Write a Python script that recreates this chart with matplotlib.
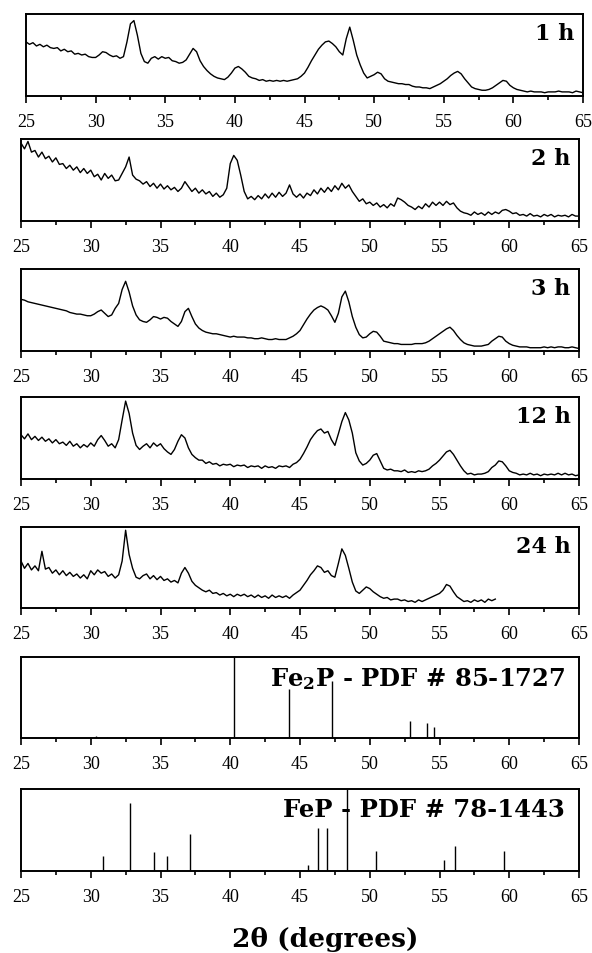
import numpy as np
import matplotlib
matplotlib.use("Agg")
import matplotlib.pyplot as plt
from matplotlib.ticker import MultipleLocator

# XRD patterns, 2theta from 25 deg in 0.25 deg steps,
# intensity as % of panel height
theta_start = 25.0
theta_step = 0.25

i_1h = [66, 63, 65, 61, 63, 60, 62, 59, 58, 59, 55, 57, 54, 55, 51, 52,
        50, 51, 48, 47, 47, 50, 54, 53, 50, 48, 49, 46, 48, 66, 88, 92,
        74, 52, 42, 40, 46, 48, 45, 48, 46, 47, 43, 42, 40, 41, 44, 51,
        58, 54, 43, 36, 31, 27, 24, 22, 21, 20, 23, 28, 34, 36, 33, 29,
        24, 22, 21, 19, 20, 18, 19, 18, 19, 18, 19, 18, 19, 20, 21, 24,
        28, 35, 43, 50, 57, 62, 66, 67, 64, 60, 54, 50, 70, 84, 68, 50,
        38, 28, 22, 24, 26, 29, 27, 21, 18, 17, 16, 15, 15, 14, 14, 12,
        11, 11, 10, 10, 9, 11, 13, 15, 18, 21, 25, 28, 30, 27, 21, 16,
        11, 9, 8, 7, 7, 8, 10, 13, 16, 19, 18, 13, 10, 8, 7, 6,
        5, 6, 5, 5, 5, 4, 5, 5, 5, 6, 5, 5, 5, 4, 6, 5, 4]

i_2h = [95, 88, 97, 84, 86, 78, 84, 76, 79, 72, 77, 69, 70, 64, 68, 62,
        66, 59, 64, 58, 62, 54, 57, 50, 58, 52, 56, 49, 50, 58, 66, 78,
        56, 51, 49, 45, 48, 42, 46, 40, 45, 39, 43, 38, 41, 36, 40, 48,
        42, 36, 40, 34, 38, 33, 36, 30, 34, 29, 32, 40, 70, 80, 74, 56,
        36, 27, 30, 26, 31, 27, 33, 28, 34, 29, 35, 30, 34, 44, 33, 29,
        33, 28, 34, 31, 38, 33, 40, 35, 41, 36, 43, 38, 46, 40, 44, 36,
        30, 24, 27, 21, 23, 19, 22, 17, 20, 16, 21, 18, 28, 26, 23, 19,
        17, 14, 18, 15, 21, 17, 23, 19, 23, 19, 24, 20, 22, 16, 12, 10,
        9, 7, 11, 8, 10, 7, 11, 8, 11, 9, 13, 14, 12, 9, 10, 7,
        8, 6, 9, 6, 7, 5, 8, 6, 8, 5, 7, 6, 7, 5, 8, 6, 6]

i_3h = [63, 62, 60, 59, 58, 57, 56, 55, 54, 53, 52, 51, 50, 49, 47, 46,
        45, 45, 44, 43, 43, 45, 48, 50, 46, 42, 44, 52, 58, 75, 85, 72,
        55, 44, 38, 36, 35, 38, 42, 41, 39, 41, 40, 36, 33, 30, 36, 48,
        52, 42, 33, 28, 25, 23, 22, 21, 21, 20, 19, 18, 17, 18, 17, 17,
        17, 16, 16, 15, 15, 16, 15, 14, 14, 15, 14, 14, 14, 16, 18, 21,
        25, 32, 39, 45, 50, 53, 55, 53, 50, 43, 35, 46, 66, 73, 60, 42,
        29, 20, 16, 17, 21, 24, 23, 18, 12, 11, 10, 9, 9, 8, 8, 8,
        8, 9, 9, 9, 10, 12, 15, 18, 21, 24, 27, 29, 25, 19, 14, 10,
        8, 7, 6, 6, 6, 7, 8, 12, 15, 18, 17, 12, 9, 7, 6, 5,
        5, 5, 4, 4, 4, 4, 5, 4, 5, 4, 5, 5, 4, 4, 5, 4, 3]

i_12h = [54, 49, 55, 48, 52, 47, 51, 46, 49, 44, 48, 43, 45, 41, 46, 40,
         43, 38, 42, 39, 44, 40, 48, 53, 47, 40, 43, 38, 48, 72, 95, 80,
         56, 41, 36, 40, 43, 38, 44, 40, 43, 37, 33, 30, 36, 46, 54, 50,
         38, 30, 26, 23, 23, 19, 21, 18, 19, 16, 18, 17, 18, 15, 17, 16,
         17, 14, 16, 15, 16, 13, 16, 14, 15, 13, 16, 15, 16, 14, 18, 20,
         24, 31, 39, 48, 54, 59, 61, 56, 58, 48, 41, 55, 70, 81, 72, 56,
         32, 22, 17, 19, 23, 29, 31, 22, 13, 11, 12, 10, 10, 9, 11, 8,
         9, 8, 10, 9, 10, 12, 16, 19, 23, 28, 33, 35, 30, 23, 16, 10,
         6, 7, 5, 6, 6, 7, 9, 14, 17, 22, 21, 16, 10, 8, 7, 5,
         6, 5, 7, 5, 6, 4, 6, 5, 6, 5, 7, 5, 7, 5, 6, 4, 5]

i_24h = [58, 49, 55, 47, 52, 46, 70, 48, 50, 43, 47, 41, 46, 40, 44, 39,
         42, 37, 41, 36, 46, 41, 47, 43, 45, 39, 42, 37, 41, 58, 96, 66,
         49, 38, 36, 40, 42, 36, 40, 35, 39, 34, 36, 32, 34, 31, 43, 50,
         43, 33, 28, 25, 22, 20, 22, 18, 19, 16, 18, 15, 17, 14, 17, 15,
         17, 14, 16, 13, 16, 13, 15, 12, 16, 13, 15, 13, 15, 12, 16, 19,
         22, 28, 34, 41, 46, 52, 50, 44, 46, 40, 38, 55, 73, 65, 49, 32,
         21, 18, 22, 26, 24, 20, 17, 14, 12, 13, 10, 11, 11, 9, 10, 8,
         9, 7, 10, 8, 10, 12, 14, 16, 18, 22, 29, 27, 20, 14, 11, 8,
         9, 7, 10, 8, 10, 7, 11, 9, 11]

patterns = [("1 h", i_1h), ("2 h", i_2h), ("3 h", i_3h),
            ("12 h", i_12h), ("24 h", i_24h)]

# reference stick patterns
fe2p_pos = [30.4, 31.2, 35.2, 40.3, 44.2, 47.3, 52.9, 54.1, 54.6]
fe2p_int = [2, 1.5, 1, 100, 61, 70, 21, 19, 13]
fep_pos = [30.85, 32.78, 34.55, 35.45, 37.15, 38.0, 45.55, 46.3, 46.95,
           48.35, 50.45, 55.35, 56.1, 59.65, 63.6]
fep_int = [18, 83, 23, 18, 45, 1, 7, 52, 53, 100, 25, 13, 30, 24, 1]

plt.rcParams["mathtext.fontset"] = "dejavuserif"

W, H = 592, 954
fig = plt.figure(figsize=(W / 100, H / 100), dpi=100)

# panel boxes in pixels: left, right, top, bottom
tops = [15, 140, 270, 398, 528, 658, 790]
bottoms = [97, 222, 352, 480, 609, 739, 872]
lefts = [26, 21, 21, 21, 21, 21, 21]
rights = [583, 579, 579, 579, 579, 579, 579]

axes = []
for l, r, t, b in zip(lefts, rights, tops, bottoms):
    ax = fig.add_axes([l / W, 1 - b / H, (r - l) / W, (b - t) / H])
    ax.set_xlim(25, 65)
    ax.set_ylim(0, 100)
    ax.set_yticks([])
    ax.xaxis.set_major_locator(MultipleLocator(5))
    ax.xaxis.set_minor_locator(MultipleLocator(2.5))
    ax.tick_params(axis="x", which="major", direction="out", length=5,
                   width=1.2, pad=7, labelsize=13, top=False)
    ax.tick_params(axis="x", which="minor", direction="out", length=3,
                   width=1.2, top=False)
    for lab in ax.get_xticklabels():
        lab.set_fontfamily("Liberation Serif")
    for s in ax.spines.values():
        s.set_linewidth(1.4)
    axes.append(ax)

label_kw = dict(ha="right", va="top", fontweight="bold",
                family="DejaVu Serif")

for ax, (name, vals) in zip(axes[:5], patterns):
    theta = theta_start + theta_step * np.arange(len(vals))
    ax.plot(theta, vals, color="black", lw=1.0)
    ax.text(0.985, 0.9, name, transform=ax.transAxes, fontsize=16,
            **label_kw)

ax = axes[5]
ax.vlines(fe2p_pos, 0, fe2p_int, color="black", lw=1.0)
ax.text(0.975, 0.9, r"Fe$_\mathbf{2}$P - PDF # 85-1727",
        transform=ax.transAxes, fontsize=17.5, **label_kw)

ax = axes[6]
ax.vlines(fep_pos, 0, fep_int, color="black", lw=1.0)
ax.text(0.975, 0.9, "FeP - PDF # 78-1443", transform=ax.transAxes,
        fontsize=17.5, **label_kw)

fig.text(325 / W, 1 - 940 / H, "2\u03b8 (degrees)", ha="center",
         va="center", fontsize=19, fontweight="bold", family="DejaVu Serif")

fig.savefig("out.png", dpi=100)
